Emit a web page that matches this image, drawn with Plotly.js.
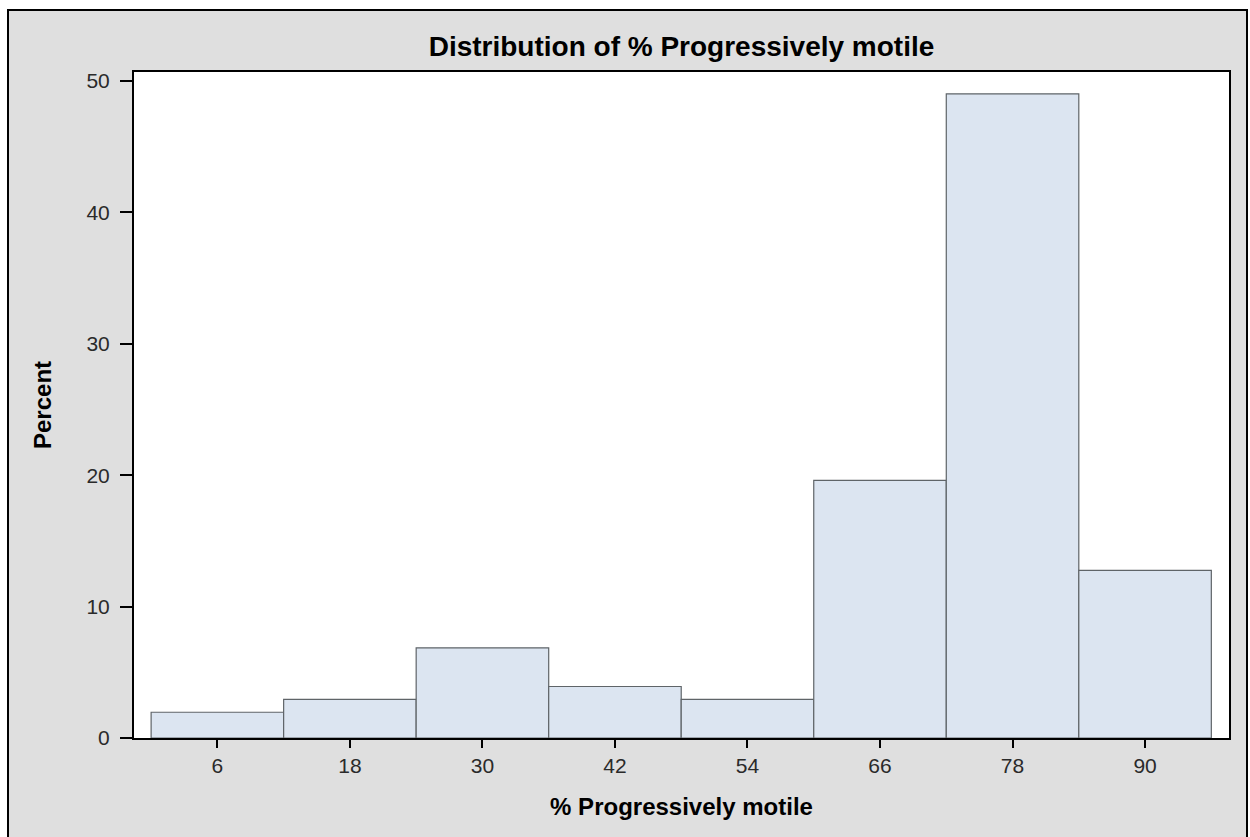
<!DOCTYPE html>
<html>
<head>
<meta charset="utf-8">
<script src="https://cdn.plot.ly/plotly-3.0.1.min.js"></script>
<style>
  html, body { margin: 0; padding: 0; background: #ffffff; overflow: hidden; width: 1250px; height: 837px; }
  #frame { position: absolute; left: 7px; top: 9px; width: 1237px; height: 860px; border: 2px solid #000; background: #dfdfdf; }
  #chart { width: 1237px; height: 840px; }
</style>
</head>
<body>
<div id="frame"><div id="chart"></div></div>
<script>
// Bin midpoints of % Progressively motile (bin width 12)
const binMidpoints = [6, 18, 30, 42, 54, 66, 78, 90];
// Percent of observations in each bin
const percentValues = [1.96, 2.94, 6.86, 3.92, 2.94, 19.61, 49.02, 12.75];
const yTickValues = [0, 10, 20, 30, 40, 50];

const trace = {
  type: 'bar',
  x: binMidpoints,
  y: percentValues,
  width: binMidpoints.map(() => 12),
  marker: { color: '#dce5f1', line: { color: '#5f6468', width: 1.2 } },
  hoverinfo: 'x+y'
};

const FONT = 'Liberation Sans, Arial, sans-serif';
const tickFont = { family: FONT, size: 21, color: '#2a2a2a' };
const layout = {
  width: 1237, height: 840,
  paper_bgcolor: '#dfdfdf',
  plot_bgcolor: '#ffffff',
  margin: { l: 125, r: 17, t: 61, b: 113 },
  bargap: 0,
  showlegend: false,
  title: {
    text: '<b>Distribution of % Progressively motile</b>',
    font: { family: FONT, size: 28, color: '#000' },
    xref: 'paper', x: 0.5, xanchor: 'center', y: 0.958, yanchor: 'middle'
  },
  xaxis: {
    range: [-1.55, 97.6],
    tickvals: binMidpoints,
    ticktext: binMidpoints.map(String),
    ticks: 'outside', ticklen: 8, tickwidth: 2, tickcolor: '#000',
    showline: true, linecolor: '#000', linewidth: 2, mirror: true,
    showgrid: false, zeroline: false,
    tickfont: tickFont,
    title: { text: '<b>% Progressively motile</b>', font: { family: FONT, size: 24, color: '#000' }, standoff: 22 }
  },
  yaxis: {
    range: [0, 50.68],
    tickvals: yTickValues,
    ticks: 'outside', ticklen: 12, tickwidth: 2, tickcolor: '#000',
    ticklabelstandoff: 6,
    showline: true, linecolor: '#000', linewidth: 2, mirror: true,
    showgrid: false, zeroline: false,
    tickfont: tickFont,
    title: { text: '<b>Percent</b>', font: { family: FONT, size: 24, color: '#000' }, standoff: 28 }
  }
};

Plotly.newPlot('chart', [trace], layout, { displayModeBar: false, staticPlot: true });
</script>
</body>
</html>
